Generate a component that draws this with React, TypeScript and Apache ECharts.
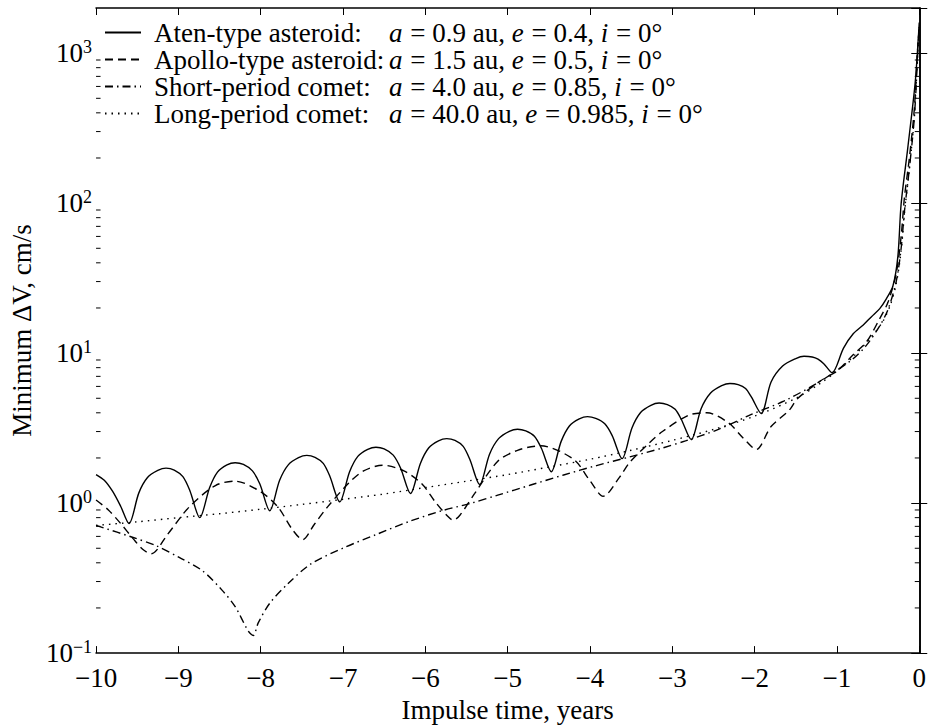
import React, { useEffect, useRef } from "react";
import * as echarts from "echarts";

const FONT = "'Liberation Serif', 'Times New Roman', serif";

const X_MIN = -10;
const X_MAX = 0;
const Y_MIN = 0.1;
const Y_MAX = 2000;

const SERIES_NAMES = [
  "Aten-type asteroid:",
  "Apollo-type asteroid:",
  "Short-period comet:",
  "Long-period comet:",
];
const SERIES_PARAMS = [
  ["0.9", "0.4"],
  ["1.5", "0.5"],
  ["4.0", "0.85"],
  ["40.0", "0.985"],
];

const MINOR_TICKS = [
  0.2, 0.3, 0.4, 0.5, 0.6, 0.7, 0.8, 0.9,
  2, 3, 4, 5, 6, 7, 8, 9,
  20, 30, 40, 50, 60, 70, 80, 90,
  200, 300, 400, 500, 600, 700, 800, 900,
];

const ATEN: [number, number][] = [
  [-10, 1.55], [-9.9, 1.42], [-9.8, 1.2], [-9.7, 0.95], [-9.6, 0.73],
  [-9.48, 1.17], [-9.375, 1.48], [-9.25, 1.65], [-9.15, 1.71], [-9.05, 1.66], [-8.945, 1.5], [-8.86, 1.21], [-8.74, 0.8],
  [-8.62, 1.27], [-8.525, 1.61], [-8.41, 1.8], [-8.31, 1.86], [-8.21, 1.81], [-8.1, 1.64], [-8.01, 1.34], [-7.89, 0.89],
  [-7.77, 1.42], [-7.665, 1.8], [-7.54, 2.01], [-7.44, 2.08], [-7.34, 2.02], [-7.24, 1.84], [-7.16, 1.51], [-7.04, 1.02],
  [-6.92, 1.62], [-6.82, 2.05], [-6.7, 2.28], [-6.6, 2.36], [-6.5, 2.3], [-6.39, 2.09], [-6.3, 1.71], [-6.18, 1.16],
  [-6.06, 1.84], [-5.96, 2.33], [-5.84, 2.6], [-5.74, 2.69], [-5.64, 2.62], [-5.54, 2.39], [-5.46, 1.96], [-5.34, 1.33],
  [-5.22, 2.12], [-5.11, 2.69], [-4.98, 3.01], [-4.88, 3.11], [-4.78, 3.03], [-4.675, 2.79], [-4.59, 2.32], [-4.47, 1.62],
  [-4.35, 2.58], [-4.25, 3.27], [-4.13, 3.64], [-4.03, 3.77], [-3.93, 3.67], [-3.82, 3.38], [-3.73, 2.82], [-3.61, 1.98],
  [-3.49, 3.17], [-3.385, 4.02], [-3.26, 4.49], [-3.16, 4.65], [-3.06, 4.54], [-2.965, 4.22], [-2.89, 3.61], [-2.77, 2.65],
  [-2.65, 4.26], [-2.535, 5.42], [-2.4, 6.07], [-2.3, 6.28], [-2.2, 6.17], [-2.11, 5.81], [-2.04, 5.11], [-1.92, 3.96],
  [-1.8, 6.42], [-1.66, 8.2], [-1.5, 9.2], [-1.4, 9.53], [-1.3, 9.43], [-1.23, 9.12], [-1.16, 8.51], [-1.06, 7.41],
  [-0.92, 10.8], [-0.8, 13.5], [-0.68, 15.4], [-0.58, 17.5], [-0.48, 19.8], [-0.4, 23], [-0.32, 28],
  [-0.26, 44], [-0.22, 99], [-0.14, 232], [-0.05, 630], [-0.016, 1150], [0, 1600],
];

const APOLLO: [number, number][] = [
  [-10, 1.05], [-9.85, 0.9], [-9.7, 0.73], [-9.55, 0.58], [-9.43, 0.49], [-9.33, 0.46],
  [-9.13, 0.62], [-8.87, 0.94], [-8.55, 1.31], [-8.31, 1.4], [-8.0, 1.19], [-7.79, 0.94], [-7.61, 0.66], [-7.49, 0.57],
  [-7.35, 0.72], [-7.19, 0.94], [-6.93, 1.36], [-6.75, 1.64], [-6.52, 1.79], [-6.26, 1.64], [-6.04, 1.34], [-5.88, 1.02],
  [-5.74, 0.83], [-5.66, 0.77], [-5.58, 0.83], [-5.4, 1.16], [-5.12, 1.9], [-4.88, 2.25], [-4.6, 2.41], [-4.2, 1.96],
  [-4.0, 1.41], [-3.84, 1.11], [-3.64, 1.49], [-3.52, 1.86], [-3.28, 2.52], [-3.12, 3.0], [-2.8, 3.86], [-2.58, 4.0],
  [-2.32, 3.44], [-2.14, 2.72], [-1.98, 2.28], [-1.8, 3.24], [-1.58, 4.16], [-1.48, 4.97], [-1.2, 6.53], [-1.0, 7.6],
  [-0.8, 9.8], [-0.64, 11.9], [-0.48, 17], [-0.38, 21.8], [-0.28, 34], [-0.22, 60], [-0.18, 109], [-0.12, 200],
  [-0.06, 424], [-0.02, 1050], [0, 1500],
];

const SHORT_COMET: [number, number][] = [
  [-10, 0.71], [-9.55, 0.59], [-9.27, 0.52], [-8.99, 0.434], [-8.71, 0.355], [-8.47, 0.263], [-8.31, 0.204],
  [-8.15, 0.14], [-8.09, 0.131], [-8.03, 0.159], [-7.89, 0.215], [-7.67, 0.29], [-7.39, 0.393], [-6.99, 0.504],
  [-6.6, 0.616], [-6.2, 0.753], [-5.8, 0.889], [-5.44, 1.0], [-5.12, 1.13], [-4.72, 1.32], [-4.32, 1.54],
  [-3.92, 1.78], [-3.52, 2.03], [-3.12, 2.33], [-2.84, 2.6], [-2.44, 3.1], [-2.04, 3.9], [-1.64, 4.8], [-1.24, 6.3],
  [-1.06, 7.3], [-0.8, 9.2], [-0.64, 11.3], [-0.48, 15.2], [-0.38, 19.5], [-0.28, 30], [-0.22, 50], [-0.18, 88],
  [-0.12, 170], [-0.06, 370], [-0.02, 950], [0, 1500],
];

const LONG_COMET: [number, number][] = [
  [-10, 0.71], [-9.5, 0.75], [-9.0, 0.8], [-8.5, 0.85], [-8.0, 0.91], [-7.5, 0.98], [-7.0, 1.06], [-6.5, 1.15],
  [-6.0, 1.27], [-5.5, 1.4], [-5.0, 1.55], [-4.5, 1.74], [-4.0, 1.96], [-3.5, 2.25], [-3.0, 2.62], [-2.5, 3.1],
  [-2.0, 3.8], [-1.5, 5.0], [-1.2, 6.3], [-1.0, 7.6], [-0.8, 9.5], [-0.6, 12.5], [-0.45, 16], [-0.35, 21],
  [-0.28, 29], [-0.22, 48], [-0.18, 85], [-0.12, 170], [-0.06, 380], [-0.02, 1000], [0, 1500],
];

const SERIES_DATA = [ATEN, APOLLO, SHORT_COMET, LONG_COMET];
const LINE_TYPES: any[] = ["solid", [8, 5], [8, 4, 1.5, 4], [1.5, 5]];

function yLabel(v: number): string {
  const lg = Math.log10(v);
  const e = Math.round(lg);
  if (Math.abs(lg - e) > 0.01) return "";
  const es = e < 0 ? "\u2212" + Math.abs(e) : String(e);
  return "{b|10}{sup|" + es + "}";
}

function xLabel(v: number): string {
  if (Math.abs(v) < 1e-9) return "0";
  return v < 0 ? "\u2212" + Math.abs(v) : String(v);
}

export default function App() {
  const ref = useRef<HTMLDivElement>(null);
  useEffect(() => {
    document.body.style.margin = "0";
    if (!ref.current) return;
    const chart = echarts.init(ref.current, null, { renderer: "svg" });

    const axisLine = { show: true, lineStyle: { color: "#000", width: 1.6 } };
    const tickStyle = { color: "#000", width: 1 };

    const legendFormatter = (name: string) => {
      const idx = SERIES_NAMES.indexOf(name);
      const p = SERIES_PARAMS[idx];
      return (
        "{n|" + name + "}{i|a}{r| = " + p[0] + " au, }{i|e}{r| = " + p[1] + ", }{i|i}{r| = 0\u00b0}"
      );
    };

    const lineSeries = SERIES_NAMES.map((name, k) => ({
      name,
      type: "line",
      data: SERIES_DATA[k],
      xAxisIndex: 0,
      yAxisIndex: 0,
      symbol: "none",
      showSymbol: false,
      smooth: 0.3,
      lineStyle: { color: "#000", width: 1.4, type: LINE_TYPES[k], cap: "butt" },
      itemStyle: { color: "#000" },
      silent: true,
    }));

    const minorTickSeries = {
      type: "custom",
      name: "minorTicks",
      xAxisIndex: 0,
      yAxisIndex: 0,
      silent: true,
      clip: false,
      data: MINOR_TICKS.map((v) => [X_MIN, v]),
      renderItem: (params: any, api: any) => {
        const y = api.coord([api.value(0), api.value(1)])[1];
        const cs = params.coordSys;
        const len = 4.5;
        return {
          type: "group",
          children: [
            { type: "line", shape: { x1: cs.x, y1: y, x2: cs.x + len, y2: y }, style: { stroke: "#000", lineWidth: 1 } },
            {
              type: "line",
              shape: { x1: cs.x + cs.width, y1: y, x2: cs.x + cs.width - len, y2: y },
              style: { stroke: "#000", lineWidth: 1 },
            },
          ],
        };
      },
    };

    const richBase = { fontFamily: FONT, fontSize: 27, color: "#000" };

    chart.setOption({
      animation: false,
      backgroundColor: "#fff",
      grid: { left: 86, right: 9, top: 8, bottom: 64, containLabel: false },
      legend: {
        show: true,
        data: SERIES_NAMES,
        orient: "vertical",
        left: 104,
        top: 19,
        padding: 0,
        itemGap: 0,
        itemWidth: 36,
        itemHeight: 14,
        formatter: legendFormatter,
        selectedMode: false,
        itemStyle: { opacity: 0 },
        textStyle: {
          ...richBase,
          lineHeight: 26.5,
          rich: {
            n: { ...richBase, width: 235, padding: [0, 0, 0, 8], lineHeight: 26.5 },
            i: { ...richBase, fontStyle: "italic", lineHeight: 26.5, padding: [0, 1, 0, 0] },
            r: { ...richBase, lineHeight: 26.5 },
          },
        },
      },
      xAxis: [
        {
          type: "value",
          position: "bottom",
          min: X_MIN,
          max: X_MAX,
          interval: 1,
          name: "Impulse time, years",
          nameLocation: "middle",
          nameGap: 40,
          nameTextStyle: { fontFamily: FONT, fontSize: 27, color: "#000" },
          axisLine,
          axisTick: { show: true, inside: true, length: 7, lineStyle: tickStyle },
          axisLabel: { show: true, margin: 11, fontFamily: FONT, fontSize: 27, color: "#000", formatter: xLabel },
          splitLine: { show: false },
        },
        {
          type: "value",
          position: "top",
          min: X_MIN,
          max: X_MAX,
          interval: 1,
          axisLine,
          axisTick: { show: true, inside: true, length: 7, lineStyle: tickStyle },
          axisLabel: { show: false },
          splitLine: { show: false },
        },
      ],
      yAxis: [
        {
          type: "log",
          logBase: 10,
          position: "left",
          min: Y_MIN,
          max: Y_MAX,
          name: "Minimum \u0394V, cm/s",
          nameLocation: "middle",
          nameGap: 52,
          nameTextStyle: { fontFamily: FONT, fontSize: 27, color: "#000" },
          axisLine,
          axisTick: { show: true, inside: true, length: 8, lineStyle: tickStyle },
          axisLabel: {
            show: true,
            margin: 4,
            formatter: yLabel,
            rich: {
              b: { fontFamily: FONT, fontSize: 27, color: "#000", lineHeight: 30 },
              sup: { fontFamily: FONT, fontSize: 18, color: "#000", lineHeight: 18, verticalAlign: "top" },
            },
          },
          splitLine: { show: false },
        },
        {
          type: "log",
          logBase: 10,
          position: "right",
          min: Y_MIN,
          max: Y_MAX,
          axisLine,
          axisTick: { show: true, inside: true, length: 8, lineStyle: tickStyle },
          axisLabel: { show: false },
          splitLine: { show: false },
        },
      ],
      series: [...lineSeries, minorTickSeries],
    });

    return () => chart.dispose();
  }, []);

  return <div ref={ref} style={{ width: 929, height: 728 }} />;
}
